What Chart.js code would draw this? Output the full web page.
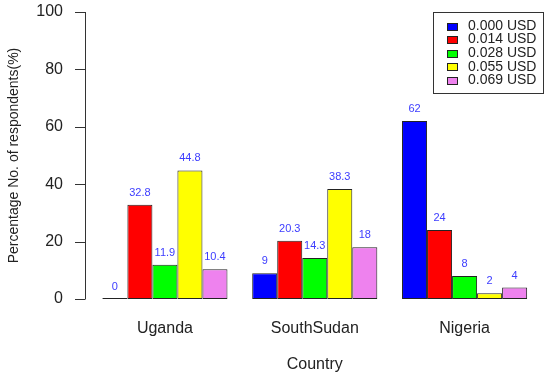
<!DOCTYPE html>
<html>
<head>
<meta charset="utf-8">
<script src="https://cdn.jsdelivr.net/npm/chart.js@4"></script>
<style>
  html, body { margin: 0; padding: 0; background: #fff; }
</style>
</head>
<body>
<canvas id="chart" width="550" height="376"></canvas>
<script>
// data
const countries = ['Uganda', 'SouthSudan', 'Nigeria'];
const priceLabels = ['0.000 USD', '0.014 USD', '0.028 USD', '0.055 USD', '0.069 USD'];
const usd000 = [0, 9, 62];
const usd014 = [32.8, 20.3, 24];
const usd028 = [11.9, 14.3, 8];
const usd055 = [44.8, 38.3, 2];
const usd069 = [10.4, 18, 4];
const yTicks = [0, 20, 40, 60, 80, 100];

const barColors = ['#0000ff', '#ff0000', '#00ff00', '#ffff00', '#ee82ee'];
const FONT = 'Liberation Sans, Arial, sans-serif';

const series = [usd000, usd014, usd028, usd055, usd069];

// axe y "à la R": ligne + traits à gauche de la zone
const rAxis = {
    id: 'rAxis',
    afterDraw(chart) {
        const ctx = chart.ctx;
        const y = chart.scales.y;
        const x0 = chart.chartArea.left - 5;
        ctx.save();
        ctx.strokeStyle = '#333';
        ctx.lineWidth = 1;
        ctx.beginPath();
        ctx.moveTo(x0 + 0.5, y.getPixelForValue(yTicks[0]));
        ctx.lineTo(x0 + 0.5, y.getPixelForValue(yTicks[yTicks.length - 1]));
        yTicks.forEach(t => {
            const py = Math.round(y.getPixelForValue(t)) + 0.5;
            ctx.moveTo(x0 + 0.5, py);
            ctx.lineTo(x0 - 10, py);
        });
        ctx.stroke();
        ctx.restore();
    }
};

// valeurs au-dessus des barres
const valueLabels = {
    id: 'valueLabels',
    afterDatasetsDraw(chart) {
        const ctx = chart.ctx;
        const y = chart.scales.y;
        ctx.save();
        ctx.fillStyle = '#3c3cff';
        ctx.font = '11px ' + FONT;
        ctx.textAlign = 'center';
        ctx.textBaseline = 'middle';
        chart.data.datasets.forEach((ds, i) => {
            chart.getDatasetMeta(i).data.forEach((bar, j) => {
                const v = ds.data[j];
                ctx.fillText(String(v), bar.x, y.getPixelForValue(v) - 12);
            });
        });
        ctx.restore();
    }
};

// légende encadrée en haut à droite
const boxLegend = {
    id: 'boxLegend',
    afterDraw(chart) {
        const ctx = chart.ctx;
        const left = 433, top = 12, w = 110, h = 81;
        ctx.save();
        ctx.fillStyle = '#fff';
        ctx.fillRect(left, top, w, h);
        ctx.strokeStyle = '#333';
        ctx.lineWidth = 1;
        ctx.strokeRect(left + 0.5, top + 0.5, w, h);
        ctx.font = '14px ' + FONT;
        ctx.textBaseline = 'middle';
        chart.data.datasets.forEach((ds, i) => {
            const cy = 26 + i * 13.6;
            ctx.fillStyle = ds.backgroundColor;
            ctx.fillRect(447, Math.round(cy - 3.5), 10, 7);
            ctx.strokeStyle = '#222';
            ctx.strokeRect(447.5, Math.round(cy - 3.5) + 0.5, 10, 7);
            ctx.fillStyle = '#222';
            ctx.fillText(ds.label, 468, cy);
        });
        ctx.restore();
    }
};

new Chart(document.getElementById('chart').getContext('2d'), {
    type: 'bar',
    data: {
        labels: countries,
        datasets: series.map((d, i) => ({
            label: priceLabels[i],
            data: d,
            backgroundColor: barColors[i],
            borderColor: '#222',
            borderWidth: 1,
            borderSkipped: false,
            minBarLength: 1
        }))
    },
    options: {
        responsive: false,
        animation: false,
        layout: { padding: { top: 12, right: 10.5, left: 0, bottom: 0 } },
        datasets: {
            bar: { categoryPercentage: 0.835, barPercentage: 1 }
        },
        plugins: {
            legend: { display: false },
            tooltip: { enabled: false }
        },
        scales: {
            x: {
                grid: { display: false, drawTicks: true, tickLength: 20 },
                border: { display: false },
                ticks: { color: '#222', font: { family: FONT, size: 16 }, padding: 0 },
                title: {
                    display: true, text: 'Country', color: '#222',
                    font: { family: FONT, size: 16 }, padding: { top: 0, bottom: 2 }
                },
                afterFit(scale) { scale.height = 77; }
            },
            y: {
                min: 0,
                max: 100,
                grid: { display: false, drawTicks: true, tickLength: 27 },
                border: { display: false },
                ticks: { color: '#222', font: { family: FONT, size: 16 }, padding: 0 },
                afterBuildTicks(scale) { scale.ticks = yTicks.map(v => ({ value: v })); },
                title: {
                    display: true, text: 'Percentage No. of respondents(%)', color: '#222',
                    font: { family: FONT, size: 14 }, padding: { top: 6, bottom: 0 }
                },
                afterFit(scale) { scale.width = 90; }
            }
        }
    },
    plugins: [rAxis, valueLabels, boxLegend]
});
</script>
</body>
</html>
